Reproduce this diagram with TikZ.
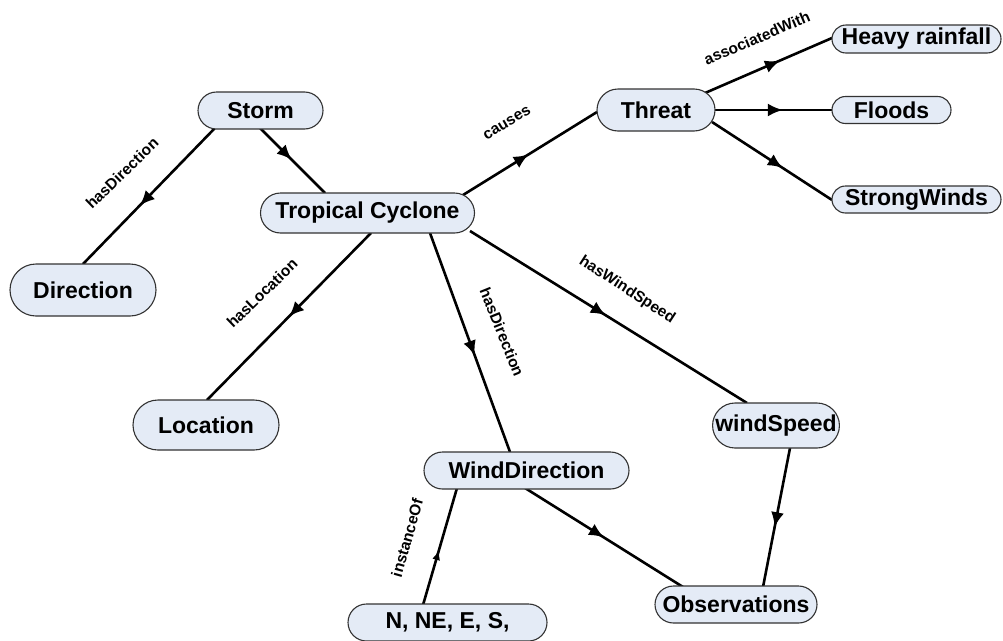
\documentclass[tikz,border=0pt]{standalone}
\usepackage{fontspec}
\setmainfont{Liberation Sans}
\usetikzlibrary{shapes.misc,arrows.meta,decorations.markings,calc,backgrounds}
\definecolor{nodefill}{RGB}{228,235,246}
\definecolor{nodeline}{RGB}{50,50,50}
\begin{document}
\begin{tikzpicture}[x=1pt,y=-1pt,
  concept/.style 2 args={rounded rectangle, draw=nodeline, line width=1.1pt,
    fill=nodefill, minimum width=#1, minimum height=#2, inner sep=0pt,
    font=\fontsize{23}{26}\selectfont\bfseries},
  link/.style={line width=2.6pt, postaction={decorate},
    decoration={markings, mark=at position #1 with {\arrow{Latex[length=15pt,width=13pt]}}}},
  link/.default=0.5,
  thinlink/.style={line width=2.6pt, postaction={decorate},
    decoration={markings, mark=at position #1 with {\arrow{Latex[length=10pt,width=8pt]}}}},
  lbl/.style={inner sep=0pt, font=\fontsize{15.5}{18}\selectfont\bfseries}]
\useasboundingbox (0,0) rectangle (1003,640);

% concepts
\node[concept={125pt}{37pt}] (storm)     at (260.5,110.5) {Storm};
\node[concept={214pt}{40pt}] (tc)        at (367.5,213)   {Tropical Cyclone};
\node[concept={146pt}{52pt}] (direction) at (83,290)      {Direction};
\node[concept={146pt}{50pt}] (location)  at (206,425)     {Location};
\node[concept={118pt}{42pt}] (threat)    at (656,110)     {Threat};
\node[concept={169pt}{28pt}] (heavy)     at (916.5,39)    {Heavy rainfall};
\node[concept={119pt}{27pt}] (floods)    at (891.5,110)   {Floods};
\node[concept={169pt}{27pt}] (strong)    at (916.5,199.5) {StrongWinds};
\node[concept={118pt}{45pt}] (wspeed)    at (776,425.5)   {windSpeed};
\node[concept={205pt}{37pt}] (wdir)      at (526.5,470.5) {WindDirection};
\node[concept={162pt}{37pt}] (obs)       at (736,604.5)   {Observations};
\node[concept={199pt}{37pt}] (compass)   at (447.5,622.5) {N, NE, E, S,};

% links
\begin{scope}[on background layer]
\draw[link=0.49] ($(storm)+(-0.5,17.5)$) -- ($(tc)+(-42.5,-20)$);
\draw[link=0.57] ($(storm)+(-45.5,17.5)$) -- ($(direction)+(0,-26)$);
\draw[link=0.5]  ($(tc)+(3.5,20)$) -- ($(location)+(1,-25)$);
\draw[link=0.56] ($(tc)+(62.5,20)$) -- ($(wdir)+(-16.5,-18.5)$);
\draw[link=0.49] ($(tc)+(102.5,18)$) -- ($(wspeed)+(-29,-22.5)$);
\draw[link=0.49] ($(tc)+(95.5,-18)$) -- ($(threat)+(-59,2)$);
\draw[link=0.59] ($(threat)+(49,-17)$) -- ($(heavy)+(-84.5,-1)$);
\draw[link=0.58] ($(threat)+(59,0)$) -- ($(floods)+(-59.5,0)$);
\draw[link=0.59] ($(threat)+(56,12)$) -- ($(strong)+(-84.5,0.5)$);
\draw[link=0.57] ($(wspeed)+(14,22.5)$) -- ($(obs)+(27,-17.5)$);
\draw[link=0.5]  ($(wdir)+(-1.5,17.5)$) -- ($(obs)+(-53,-17.5)$);
\draw[thinlink=0.47] ($(compass)+(-24.5,-17.5)$) -- ($(wdir)+(-69.5,17.5)$);
\end{scope}

% link phrases
\node[lbl, rotate=44]  (l1)  at (122,173) {hasDirection};
\node[lbl, rotate=44]  (l2)  at (262,293) {hasLocation};
\node[lbl, rotate=-68] (l3)  at (502,332) {hasDirection};
\node[lbl, rotate=-33] (l4)  at (627,290) {hasWindSpeed};
\node[lbl, rotate=31]  (l5)  at (507,123) {causes};
\node[lbl, rotate=23]  (l6)  at (757,38)  {associatedWith};
\node[lbl, rotate=74]  (l7)  at (407,538) {instanceOf};
\end{tikzpicture}
\end{document}
